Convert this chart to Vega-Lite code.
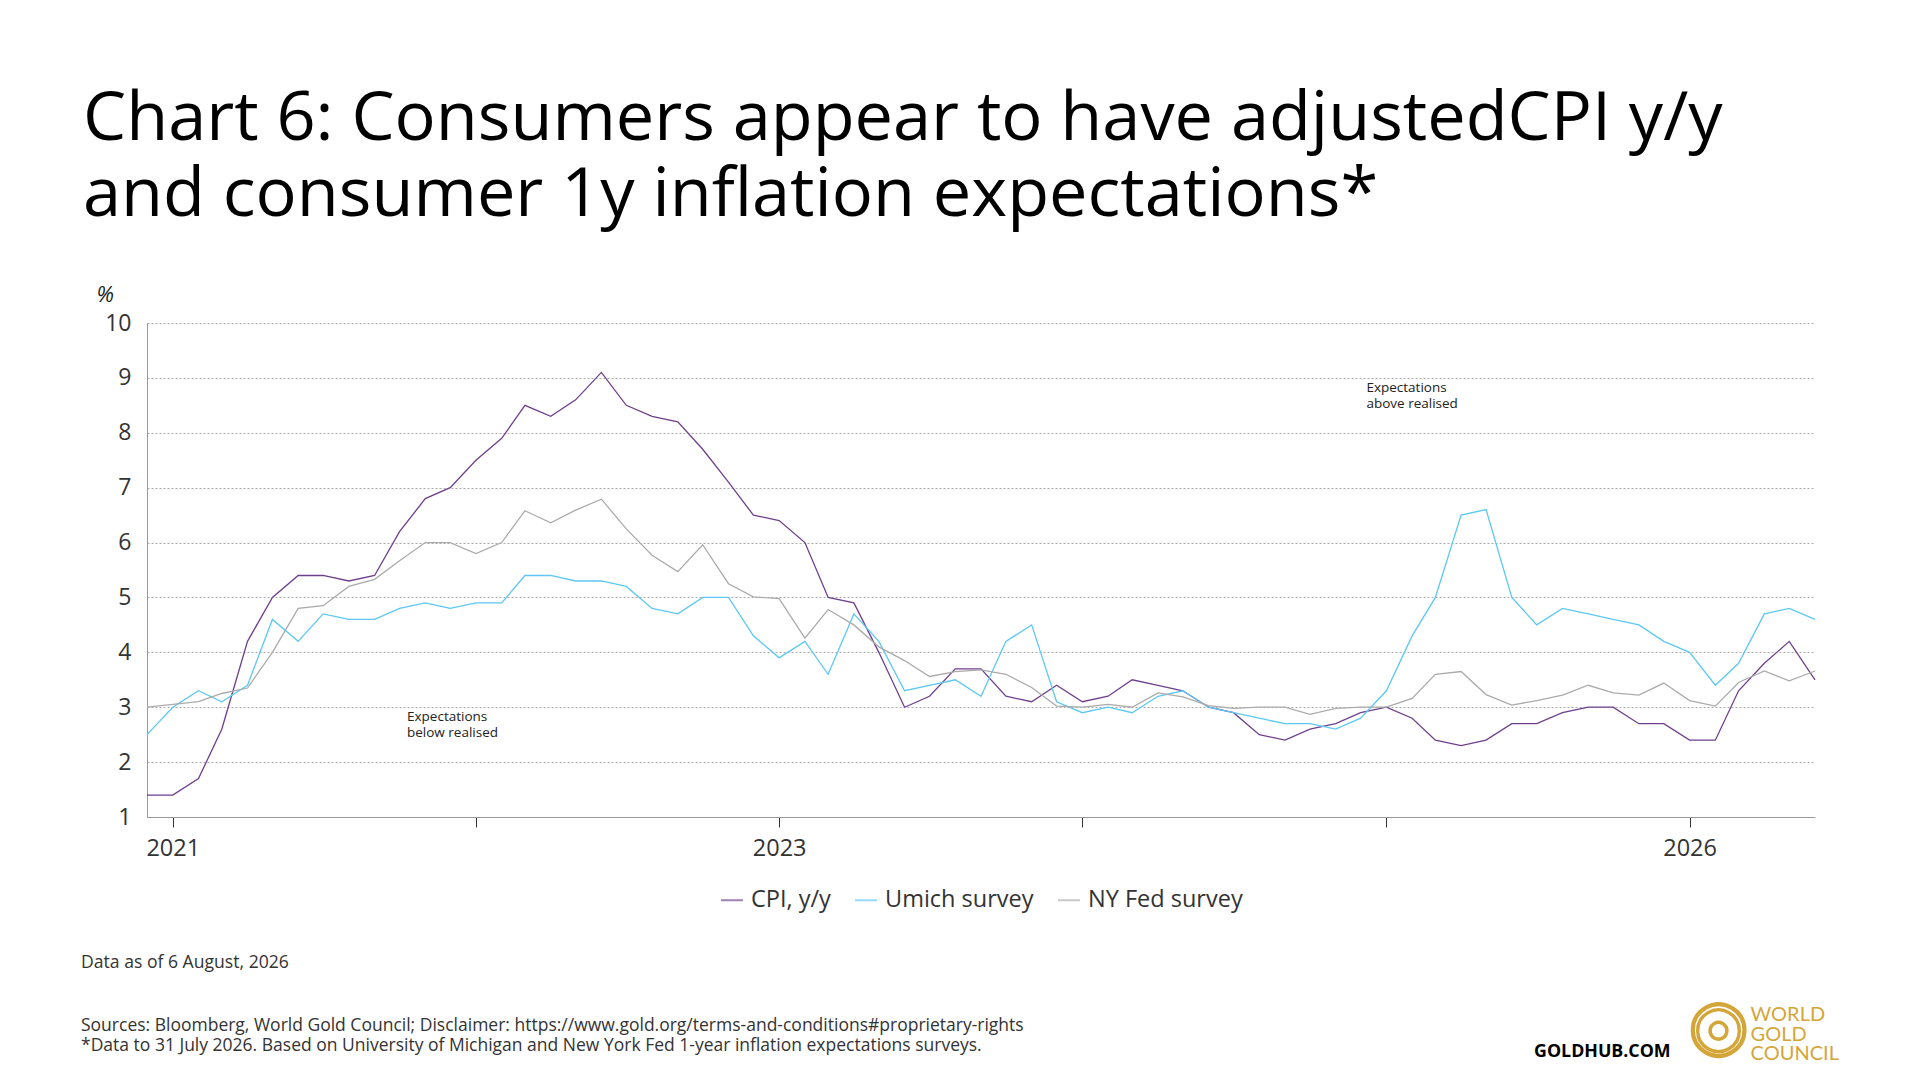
{
  "$schema": "https://vega.github.io/schema/vega-lite/v6.json",
  "padding": {"left": 81, "top": 84, "right": 20, "bottom": 10},
  "config": {
    "font": "Open Sans",
    "view": {"stroke": null},
    "legend": {"layout": {"bottom": {"anchor": "middle"}}}
  },
  "title": {
    "text": ["Chart 6: Consumers appear to have adjustedCPI y/y", "and consumer 1y inflation expectations*"],
    "anchor": "start",
    "frame": "bounds",
    "fontSize": 68.5,
    "fontWeight": "normal",
    "color": "#000000",
    "lineHeight": 76,
    "offset": 53,
    "dx": 2
  },
  "vconcat": [
    {
      "title": {
        "text": ["WORLD", "GOLD", "COUNCIL"],
        "orient": "bottom",
        "anchor": "end",
        "frame": "bounds",
        "align": "left",
        "dx": -67,
        "offset": -59,
        "font": "Lato",
        "fontSize": 20,
        "fontWeight": "normal",
        "color": "#D4A63A",
        "lineHeight": 19.5
      },
      "vconcat": [
        {
          "title": {
            "text": "○",
            "orient": "bottom",
            "anchor": "end",
            "frame": "bounds",
            "align": "center",
            "dx": -99,
            "offset": -69,
            "font": "DejaVu Sans",
            "fontSize": 73,
            "fontWeight": "normal",
            "color": "#D4A63A"
          },
          "vconcat": [
            {
              "title": {
                "text": "◎",
                "orient": "bottom",
                "anchor": "end",
                "frame": "bounds",
                "align": "center",
                "dx": -99,
                "offset": -61,
                "font": "DejaVu Sans",
                "fontSize": 59,
                "fontWeight": "normal",
                "color": "#D4A63A"
              },
              "vconcat": [
                {
                  "title": {
                    "text": "GOLDHUB.COM",
                    "orient": "bottom",
                    "anchor": "end",
                    "frame": "bounds",
                    "dx": -147,
                    "offset": -12,
                    "fontSize": 17.8,
                    "fontWeight": "bold",
                    "color": "#000000"
                  },
                  "vconcat": [
                    {
                      "title": {
                        "text": "Data as of 6 August, 2026",
                        "subtitle": ["Sources: Bloomberg, World Gold Council; Disclaimer: https://www.gold.org/terms-and-conditions#proprietary-rights", "*Data to 31 July 2026. Based on University of Michigan and New York Fed 1-year inflation expectations surveys."],
                        "orient": "bottom",
                        "anchor": "start",
                        "frame": "bounds",
                        "dx": -15,
                        "offset": 41.5,
                        "fontSize": 17.6,
                        "fontWeight": "normal",
                        "color": "#333333",
                        "subtitleFontSize": 17.5,
                        "subtitleColor": "#333333",
                        "subtitlePadding": 46,
                        "subtitleLineHeight": 20
                      },
                      "resolve": {"scale": {"color": "independent"}, "legend": {"color": "independent"}},
                      "vconcat": [
                        {
                          "width": 1668,
                          "height": 494,
                          "layer": [
                            {
                              "data": {
                                "values": [
                                  {"date": "2020-12", "series": "CPI, y/y", "value": 1.4},
                                  {"date": "2021-01", "series": "CPI, y/y", "value": 1.4},
                                  {"date": "2021-02", "series": "CPI, y/y", "value": 1.7},
                                  {"date": "2021-03", "series": "CPI, y/y", "value": 2.6},
                                  {"date": "2021-04", "series": "CPI, y/y", "value": 4.2},
                                  {"date": "2021-05", "series": "CPI, y/y", "value": 5.0},
                                  {"date": "2021-06", "series": "CPI, y/y", "value": 5.4},
                                  {"date": "2021-07", "series": "CPI, y/y", "value": 5.4},
                                  {"date": "2021-08", "series": "CPI, y/y", "value": 5.3},
                                  {"date": "2021-09", "series": "CPI, y/y", "value": 5.4},
                                  {"date": "2021-10", "series": "CPI, y/y", "value": 6.2},
                                  {"date": "2021-11", "series": "CPI, y/y", "value": 6.8},
                                  {"date": "2021-12", "series": "CPI, y/y", "value": 7.0},
                                  {"date": "2022-01", "series": "CPI, y/y", "value": 7.5},
                                  {"date": "2022-02", "series": "CPI, y/y", "value": 7.9},
                                  {"date": "2022-03", "series": "CPI, y/y", "value": 8.5},
                                  {"date": "2022-04", "series": "CPI, y/y", "value": 8.3},
                                  {"date": "2022-05", "series": "CPI, y/y", "value": 8.6},
                                  {"date": "2022-06", "series": "CPI, y/y", "value": 9.1},
                                  {"date": "2022-07", "series": "CPI, y/y", "value": 8.5},
                                  {"date": "2022-08", "series": "CPI, y/y", "value": 8.3},
                                  {"date": "2022-09", "series": "CPI, y/y", "value": 8.2},
                                  {"date": "2022-10", "series": "CPI, y/y", "value": 7.7},
                                  {"date": "2022-11", "series": "CPI, y/y", "value": 7.1},
                                  {"date": "2022-12", "series": "CPI, y/y", "value": 6.5},
                                  {"date": "2023-01", "series": "CPI, y/y", "value": 6.4},
                                  {"date": "2023-02", "series": "CPI, y/y", "value": 6.0},
                                  {"date": "2023-03", "series": "CPI, y/y", "value": 5.0},
                                  {"date": "2023-04", "series": "CPI, y/y", "value": 4.9},
                                  {"date": "2023-05", "series": "CPI, y/y", "value": 4.0},
                                  {"date": "2023-06", "series": "CPI, y/y", "value": 3.0},
                                  {"date": "2023-07", "series": "CPI, y/y", "value": 3.2},
                                  {"date": "2023-08", "series": "CPI, y/y", "value": 3.7},
                                  {"date": "2023-09", "series": "CPI, y/y", "value": 3.7},
                                  {"date": "2023-10", "series": "CPI, y/y", "value": 3.2},
                                  {"date": "2023-11", "series": "CPI, y/y", "value": 3.1},
                                  {"date": "2023-12", "series": "CPI, y/y", "value": 3.4},
                                  {"date": "2024-01", "series": "CPI, y/y", "value": 3.1},
                                  {"date": "2024-02", "series": "CPI, y/y", "value": 3.2},
                                  {"date": "2024-03", "series": "CPI, y/y", "value": 3.5},
                                  {"date": "2024-04", "series": "CPI, y/y", "value": 3.4},
                                  {"date": "2024-05", "series": "CPI, y/y", "value": 3.3},
                                  {"date": "2024-06", "series": "CPI, y/y", "value": 3.0},
                                  {"date": "2024-07", "series": "CPI, y/y", "value": 2.9},
                                  {"date": "2024-08", "series": "CPI, y/y", "value": 2.5},
                                  {"date": "2024-09", "series": "CPI, y/y", "value": 2.4},
                                  {"date": "2024-10", "series": "CPI, y/y", "value": 2.6},
                                  {"date": "2024-11", "series": "CPI, y/y", "value": 2.7},
                                  {"date": "2024-12", "series": "CPI, y/y", "value": 2.9},
                                  {"date": "2025-01", "series": "CPI, y/y", "value": 3.0},
                                  {"date": "2025-02", "series": "CPI, y/y", "value": 2.8},
                                  {"date": "2025-03", "series": "CPI, y/y", "value": 2.4},
                                  {"date": "2025-04", "series": "CPI, y/y", "value": 2.3},
                                  {"date": "2025-05", "series": "CPI, y/y", "value": 2.4},
                                  {"date": "2025-06", "series": "CPI, y/y", "value": 2.7},
                                  {"date": "2025-07", "series": "CPI, y/y", "value": 2.7},
                                  {"date": "2025-08", "series": "CPI, y/y", "value": 2.9},
                                  {"date": "2025-09", "series": "CPI, y/y", "value": 3.0},
                                  {"date": "2025-10", "series": "CPI, y/y", "value": 3.0},
                                  {"date": "2025-11", "series": "CPI, y/y", "value": 2.7},
                                  {"date": "2025-12", "series": "CPI, y/y", "value": 2.7},
                                  {"date": "2026-01", "series": "CPI, y/y", "value": 2.4},
                                  {"date": "2026-02", "series": "CPI, y/y", "value": 2.4},
                                  {"date": "2026-03", "series": "CPI, y/y", "value": 3.3},
                                  {"date": "2026-04", "series": "CPI, y/y", "value": 3.8},
                                  {"date": "2026-05", "series": "CPI, y/y", "value": 4.2},
                                  {"date": "2026-06", "series": "CPI, y/y", "value": 3.5},
                                  {"date": "2020-12", "series": "Umich survey", "value": 2.5},
                                  {"date": "2021-01", "series": "Umich survey", "value": 3.0},
                                  {"date": "2021-02", "series": "Umich survey", "value": 3.3},
                                  {"date": "2021-03", "series": "Umich survey", "value": 3.1},
                                  {"date": "2021-04", "series": "Umich survey", "value": 3.4},
                                  {"date": "2021-05", "series": "Umich survey", "value": 4.6},
                                  {"date": "2021-06", "series": "Umich survey", "value": 4.2},
                                  {"date": "2021-07", "series": "Umich survey", "value": 4.7},
                                  {"date": "2021-08", "series": "Umich survey", "value": 4.6},
                                  {"date": "2021-09", "series": "Umich survey", "value": 4.6},
                                  {"date": "2021-10", "series": "Umich survey", "value": 4.8},
                                  {"date": "2021-11", "series": "Umich survey", "value": 4.9},
                                  {"date": "2021-12", "series": "Umich survey", "value": 4.8},
                                  {"date": "2022-01", "series": "Umich survey", "value": 4.9},
                                  {"date": "2022-02", "series": "Umich survey", "value": 4.9},
                                  {"date": "2022-03", "series": "Umich survey", "value": 5.4},
                                  {"date": "2022-04", "series": "Umich survey", "value": 5.4},
                                  {"date": "2022-05", "series": "Umich survey", "value": 5.3},
                                  {"date": "2022-06", "series": "Umich survey", "value": 5.3},
                                  {"date": "2022-07", "series": "Umich survey", "value": 5.2},
                                  {"date": "2022-08", "series": "Umich survey", "value": 4.8},
                                  {"date": "2022-09", "series": "Umich survey", "value": 4.7},
                                  {"date": "2022-10", "series": "Umich survey", "value": 5.0},
                                  {"date": "2022-11", "series": "Umich survey", "value": 5.0},
                                  {"date": "2022-12", "series": "Umich survey", "value": 4.3},
                                  {"date": "2023-01", "series": "Umich survey", "value": 3.9},
                                  {"date": "2023-02", "series": "Umich survey", "value": 4.2},
                                  {"date": "2023-03", "series": "Umich survey", "value": 3.6},
                                  {"date": "2023-04", "series": "Umich survey", "value": 4.7},
                                  {"date": "2023-05", "series": "Umich survey", "value": 4.2},
                                  {"date": "2023-06", "series": "Umich survey", "value": 3.3},
                                  {"date": "2023-07", "series": "Umich survey", "value": 3.4},
                                  {"date": "2023-08", "series": "Umich survey", "value": 3.5},
                                  {"date": "2023-09", "series": "Umich survey", "value": 3.2},
                                  {"date": "2023-10", "series": "Umich survey", "value": 4.2},
                                  {"date": "2023-11", "series": "Umich survey", "value": 4.5},
                                  {"date": "2023-12", "series": "Umich survey", "value": 3.1},
                                  {"date": "2024-01", "series": "Umich survey", "value": 2.9},
                                  {"date": "2024-02", "series": "Umich survey", "value": 3.0},
                                  {"date": "2024-03", "series": "Umich survey", "value": 2.9},
                                  {"date": "2024-04", "series": "Umich survey", "value": 3.2},
                                  {"date": "2024-05", "series": "Umich survey", "value": 3.3},
                                  {"date": "2024-06", "series": "Umich survey", "value": 3.0},
                                  {"date": "2024-07", "series": "Umich survey", "value": 2.9},
                                  {"date": "2024-08", "series": "Umich survey", "value": 2.8},
                                  {"date": "2024-09", "series": "Umich survey", "value": 2.7},
                                  {"date": "2024-10", "series": "Umich survey", "value": 2.7},
                                  {"date": "2024-11", "series": "Umich survey", "value": 2.6},
                                  {"date": "2024-12", "series": "Umich survey", "value": 2.8},
                                  {"date": "2025-01", "series": "Umich survey", "value": 3.3},
                                  {"date": "2025-02", "series": "Umich survey", "value": 4.3},
                                  {"date": "2025-03", "series": "Umich survey", "value": 5.0},
                                  {"date": "2025-04", "series": "Umich survey", "value": 6.5},
                                  {"date": "2025-05", "series": "Umich survey", "value": 6.6},
                                  {"date": "2025-06", "series": "Umich survey", "value": 5.0},
                                  {"date": "2025-07", "series": "Umich survey", "value": 4.5},
                                  {"date": "2025-08", "series": "Umich survey", "value": 4.8},
                                  {"date": "2025-09", "series": "Umich survey", "value": 4.7},
                                  {"date": "2025-10", "series": "Umich survey", "value": 4.6},
                                  {"date": "2025-11", "series": "Umich survey", "value": 4.5},
                                  {"date": "2025-12", "series": "Umich survey", "value": 4.2},
                                  {"date": "2026-01", "series": "Umich survey", "value": 4.0},
                                  {"date": "2026-02", "series": "Umich survey", "value": 3.4},
                                  {"date": "2026-03", "series": "Umich survey", "value": 3.8},
                                  {"date": "2026-04", "series": "Umich survey", "value": 4.7},
                                  {"date": "2026-05", "series": "Umich survey", "value": 4.8},
                                  {"date": "2026-06", "series": "Umich survey", "value": 4.6},
                                  {"date": "2020-12", "series": "NY Fed survey", "value": 3.0},
                                  {"date": "2021-01", "series": "NY Fed survey", "value": 3.05},
                                  {"date": "2021-02", "series": "NY Fed survey", "value": 3.1},
                                  {"date": "2021-03", "series": "NY Fed survey", "value": 3.25},
                                  {"date": "2021-04", "series": "NY Fed survey", "value": 3.35},
                                  {"date": "2021-05", "series": "NY Fed survey", "value": 4.0},
                                  {"date": "2021-06", "series": "NY Fed survey", "value": 4.8},
                                  {"date": "2021-07", "series": "NY Fed survey", "value": 4.85},
                                  {"date": "2021-08", "series": "NY Fed survey", "value": 5.2},
                                  {"date": "2021-09", "series": "NY Fed survey", "value": 5.33},
                                  {"date": "2021-10", "series": "NY Fed survey", "value": 5.67},
                                  {"date": "2021-11", "series": "NY Fed survey", "value": 6.0},
                                  {"date": "2021-12", "series": "NY Fed survey", "value": 6.0},
                                  {"date": "2022-01", "series": "NY Fed survey", "value": 5.8},
                                  {"date": "2022-02", "series": "NY Fed survey", "value": 6.0},
                                  {"date": "2022-03", "series": "NY Fed survey", "value": 6.58},
                                  {"date": "2022-04", "series": "NY Fed survey", "value": 6.36},
                                  {"date": "2022-05", "series": "NY Fed survey", "value": 6.59},
                                  {"date": "2022-06", "series": "NY Fed survey", "value": 6.79},
                                  {"date": "2022-07", "series": "NY Fed survey", "value": 6.25},
                                  {"date": "2022-08", "series": "NY Fed survey", "value": 5.77},
                                  {"date": "2022-09", "series": "NY Fed survey", "value": 5.47},
                                  {"date": "2022-10", "series": "NY Fed survey", "value": 5.96},
                                  {"date": "2022-11", "series": "NY Fed survey", "value": 5.25},
                                  {"date": "2022-12", "series": "NY Fed survey", "value": 5.01},
                                  {"date": "2023-01", "series": "NY Fed survey", "value": 4.98},
                                  {"date": "2023-02", "series": "NY Fed survey", "value": 4.26},
                                  {"date": "2023-03", "series": "NY Fed survey", "value": 4.78},
                                  {"date": "2023-04", "series": "NY Fed survey", "value": 4.5},
                                  {"date": "2023-05", "series": "NY Fed survey", "value": 4.1},
                                  {"date": "2023-06", "series": "NY Fed survey", "value": 3.85},
                                  {"date": "2023-07", "series": "NY Fed survey", "value": 3.56},
                                  {"date": "2023-08", "series": "NY Fed survey", "value": 3.65},
                                  {"date": "2023-09", "series": "NY Fed survey", "value": 3.68},
                                  {"date": "2023-10", "series": "NY Fed survey", "value": 3.6},
                                  {"date": "2023-11", "series": "NY Fed survey", "value": 3.36},
                                  {"date": "2023-12", "series": "NY Fed survey", "value": 3.02},
                                  {"date": "2024-01", "series": "NY Fed survey", "value": 3.0},
                                  {"date": "2024-02", "series": "NY Fed survey", "value": 3.05},
                                  {"date": "2024-03", "series": "NY Fed survey", "value": 3.0},
                                  {"date": "2024-04", "series": "NY Fed survey", "value": 3.26},
                                  {"date": "2024-05", "series": "NY Fed survey", "value": 3.19},
                                  {"date": "2024-06", "series": "NY Fed survey", "value": 3.03},
                                  {"date": "2024-07", "series": "NY Fed survey", "value": 2.98},
                                  {"date": "2024-08", "series": "NY Fed survey", "value": 3.0},
                                  {"date": "2024-09", "series": "NY Fed survey", "value": 3.0},
                                  {"date": "2024-10", "series": "NY Fed survey", "value": 2.87},
                                  {"date": "2024-11", "series": "NY Fed survey", "value": 2.98},
                                  {"date": "2024-12", "series": "NY Fed survey", "value": 3.0},
                                  {"date": "2025-01", "series": "NY Fed survey", "value": 3.0},
                                  {"date": "2025-02", "series": "NY Fed survey", "value": 3.16},
                                  {"date": "2025-03", "series": "NY Fed survey", "value": 3.6},
                                  {"date": "2025-04", "series": "NY Fed survey", "value": 3.65},
                                  {"date": "2025-05", "series": "NY Fed survey", "value": 3.23},
                                  {"date": "2025-06", "series": "NY Fed survey", "value": 3.04},
                                  {"date": "2025-07", "series": "NY Fed survey", "value": 3.12},
                                  {"date": "2025-08", "series": "NY Fed survey", "value": 3.22},
                                  {"date": "2025-09", "series": "NY Fed survey", "value": 3.4},
                                  {"date": "2025-10", "series": "NY Fed survey", "value": 3.26},
                                  {"date": "2025-11", "series": "NY Fed survey", "value": 3.22},
                                  {"date": "2025-12", "series": "NY Fed survey", "value": 3.44},
                                  {"date": "2026-01", "series": "NY Fed survey", "value": 3.12},
                                  {"date": "2026-02", "series": "NY Fed survey", "value": 3.02},
                                  {"date": "2026-03", "series": "NY Fed survey", "value": 3.45},
                                  {"date": "2026-04", "series": "NY Fed survey", "value": 3.66},
                                  {"date": "2026-05", "series": "NY Fed survey", "value": 3.48},
                                  {"date": "2026-06", "series": "NY Fed survey", "value": 3.66}
                                ]
                              },
                              "mark": {"type": "line", "strokeWidth": 1.3},
                              "encoding": {
                                "x": {
                                  "field": "date",
                                  "type": "temporal",
                                  "scale": {
                                    "type": "utc",
                                    "domain": [
                                      {"year": 2020, "month": 12, "date": 1, "utc": true},
                                      {"year": 2026, "month": 6, "date": 1, "utc": true}
                                    ]
                                  },
                                  "axis": {
                                    "title": null,
                                    "grid": false,
                                    "values": [
                                      {"year": 2021, "month": 1, "date": 1, "utc": true},
                                      {"year": 2022, "month": 1, "date": 1, "utc": true},
                                      {"year": 2023, "month": 1, "date": 1, "utc": true},
                                      {"year": 2024, "month": 1, "date": 1, "utc": true},
                                      {"year": 2025, "month": 1, "date": 1, "utc": true},
                                      {"year": 2026, "month": 1, "date": 1, "utc": true}
                                    ],
                                    "labelExpr": "indexof([2021, 2023, 2026], utcyear(datum.value)) >= 0 ? utcFormat(datum.value, '%Y') : ''",
                                    "domainColor": "#999999",
                                    "tickColor": "#333333",
                                    "tickSize": 10,
                                    "labelFontSize": 23.5,
                                    "labelColor": "#333333",
                                    "labelPadding": 9
                                  }
                                },
                                "y": {
                                  "field": "value",
                                  "type": "quantitative",
                                  "scale": {"domain": [1, 10], "nice": false, "zero": false},
                                  "axis": {
                                    "title": "%",
                                    "titleAngle": 0,
                                    "titleX": -51,
                                    "titleY": -22,
                                    "titleAlign": "left",
                                    "titleBaseline": "alphabetic",
                                    "titleFontSize": 22,
                                    "titleFontWeight": "normal",
                                    "titleFontStyle": "italic",
                                    "titleColor": "#222222",
                                    "values": [1, 2, 3, 4, 5, 6, 7, 8, 9, 10],
                                    "format": "d",
                                    "grid": true,
                                    "gridDash": [2, 2],
                                    "gridColor": "#aaaaaa",
                                    "domainColor": "#999999",
                                    "ticks": false,
                                    "labelPadding": 16,
                                    "labelFontSize": 23,
                                    "labelColor": "#333333"
                                  }
                                },
                                "color": {
                                  "field": "series",
                                  "type": "nominal",
                                  "scale": {
                                    "domain": ["CPI, y/y", "Umich survey", "NY Fed survey"],
                                    "range": ["#6E3F8C", "#5CC8F5", "#ABABAB"]
                                  },
                                  "legend": {
                                    "orient": "bottom",
                                    "direction": "horizontal",
                                    "title": null,
                                    "symbolType": "stroke",
                                    "symbolStrokeWidth": 2,
                                    "symbolSize": 484,
                                    "symbolOpacity": 0.65,
                                    "labelFontSize": 23.5,
                                    "labelColor": "#333333",
                                    "columnPadding": 20,
                                    "labelOffset": 7,
                                    "offset": 28
                                  }
                                }
                              }
                            },
                            {
                              "data": {
                                "values": [
                                  {"date": "2024-12-08", "value": 8.81, "label": "Expectations\nabove realised"},
                                  {"date": "2021-10-10", "value": 2.83, "label": "Expectations\nbelow realised"}
                                ]
                              },
                              "mark": {"type": "text", "align": "left", "baseline": "middle", "fontSize": 13.5, "lineHeight": 16, "lineBreak": "\n", "color": "#222222"},
                              "encoding": {
                                "x": {"field": "date", "type": "temporal"},
                                "y": {"field": "value", "type": "quantitative"},
                                "text": {"field": "label"}
                              }
                            }
                          ]
                        }
                      ]
                    }
                  ]
                }
              ]
            }
          ]
        }
      ]
    }
  ]
}
